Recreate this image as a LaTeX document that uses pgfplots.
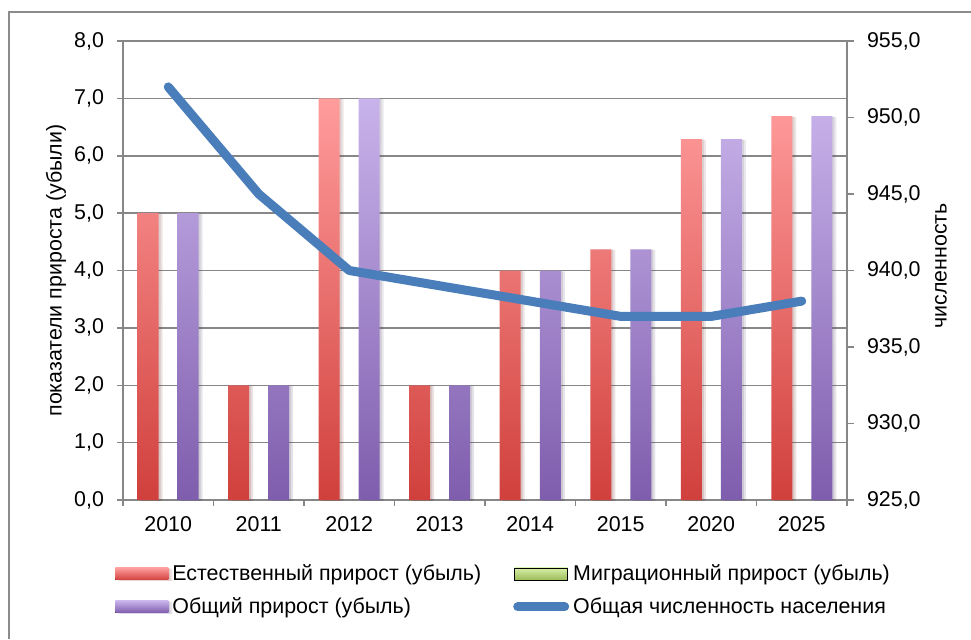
\documentclass[border=0pt]{standalone}
\usepackage{fontspec}
\setmainfont{Liberation Sans}
\usepackage{pgfplots}
\pgfplotsset{compat=1.18}
\definecolor{redtop}{HTML}{FF9C9C}
\definecolor{redbot}{HTML}{D0403C}
\definecolor{purtop}{HTML}{C9B3EB}
\definecolor{purbot}{HTML}{7E5DAD}
\definecolor{grntop}{HTML}{D7EFA8}
\definecolor{grnbot}{HTML}{9BBB59}
\definecolor{lineblue}{HTML}{4A7EBB}
\definecolor{gridgray}{HTML}{878787}
\definecolor{bordergray}{HTML}{8C8C8C}
\pgfplotsset{
  swatchc/.style 2 args={legend image code/.code={\fill[top color=#1, bottom color=#2] (0pt,-3pt) rectangle (26.5pt,3pt);}},
  barshadow/.style={preaction={fill=black, fill opacity=0.07, transform canvas={xshift=2pt, yshift=-0.4pt}},
                    preaction={fill=black, fill opacity=0.08, transform canvas={xshift=1pt, yshift=-0.2pt}}},
}
\begin{document}
\begin{tikzpicture}[font=\fontsize{10.7}{12.8}\selectfont]
\useasboundingbox (0,0) rectangle (485.5pt,319.5pt);
\draw[color=bordergray, line width=0.75pt] (4.5pt,0) -- (4.5pt,313.5pt) -- (485.5pt,313.5pt);
\begin{axis}[
  at={(61.5pt,69.5pt)}, anchor=south west,
  scale only axis, width=362pt, height=229.5pt,
  xmin=-0.5, xmax=7.5, ymin=0, ymax=8,
  axis y line*=left, axis x line*=bottom,
  xtick={-0.5,0.5,...,7.5}, xticklabels={},
  extra x ticks={0,1,2,3,4,5,6,7},
  extra x tick labels={2010,2011,2012,2013,2014,2015,2020,2025},
  extra x tick style={major tick length=0pt, grid=none},
  xticklabel style={yshift=-4.5pt},
  ytick={0,1,...,8},
  yticklabel style={xshift=-3pt, /pgf/number format/.cd, fixed, fixed zerofill, precision=1, use comma, assume math mode=true},
  ymajorgrids, grid style={gridgray, line width=0.75pt},
  axis line style={gridgray, line width=0.75pt},
  tick style={gridgray, line width=0.75pt},
  major tick length=3pt, tick align=outside,
  ylabel={показатели прироста (убыли)},
  every axis y label/.style={at={(axis description cs:-0.0925,0.5)}, rotate=90, anchor=center},
  legend columns=2,
  legend style={at={(axis description cs:-0.011,-0.131)}, anchor=north west, draw=none, fill=none,
    inner sep=0pt, row sep=3pt, /tikz/every even column/.append style={column sep=14pt},
    font=\fontsize{10.7}{12.8}\selectfont},
  legend cell align=left,
]
\addplot[ybar, bar width=10.5pt, bar shift=-10pt, draw=none, top color=redtop, bottom color=redbot, barshadow, swatchc={redtop}{redbot}]
  coordinates {(0,5.0) (1,2.0) (2,7.0) (3,2.0) (4,4.0) (5,4.37) (6,6.29) (7,6.69)};
\addlegendentry{Естественный прирост (убыль)}
\addlegendimage{swatchc={grntop}{grnbot}}
\addlegendentry{Миграционный прирост (убыль)}
\addplot[ybar, bar width=10.5pt, bar shift=0pt, draw=none, fill=none, forget plot]
  coordinates {(0,0) (1,0) (2,0) (3,0) (4,0) (5,0) (6,0) (7,0)};
\addplot[ybar, bar width=10.5pt, bar shift=10pt, draw=none, top color=purtop, bottom color=purbot, barshadow, swatchc={purtop}{purbot}]
  coordinates {(0,5.0) (1,2.0) (2,7.0) (3,2.0) (4,4.0) (5,4.37) (6,6.29) (7,6.69)};
\addlegendentry{Общий прирост (убыль)}
\addlegendimage{legend image code/.code={\draw[lineblue, line width=4.5pt, line cap=round] (1.5pt,0pt) -- (25pt,0pt);}}
\addlegendentry{Общая численность населения}
\end{axis}
\begin{axis}[
  at={(61.5pt,69.5pt)}, anchor=south west,
  scale only axis, width=362pt, height=229.5pt,
  xmin=-0.5, xmax=7.5, ymin=925, ymax=955,
  axis y line*=right, axis x line=none,
  ytick={925,930,...,955},
  yticklabel style={xshift=3pt, /pgf/number format/.cd, fixed, fixed zerofill, precision=1, use comma, assume math mode=true},
  axis line style={gridgray, line width=0.75pt},
  tick style={gridgray, line width=0.75pt},
  major tick length=3.5pt, tick align=outside,
  ylabel={численность},
  every axis y label/.style={at={(axis description cs:1.1298,0.51)}, rotate=90, anchor=center},
]
\addplot[lineblue, line width=4.5pt, line cap=round, line join=round]
  coordinates {(0,952) (1,945) (2,940) (3,939) (4,938) (5,937) (6,937) (7,938)};
\end{axis}
\end{tikzpicture}
\end{document}
